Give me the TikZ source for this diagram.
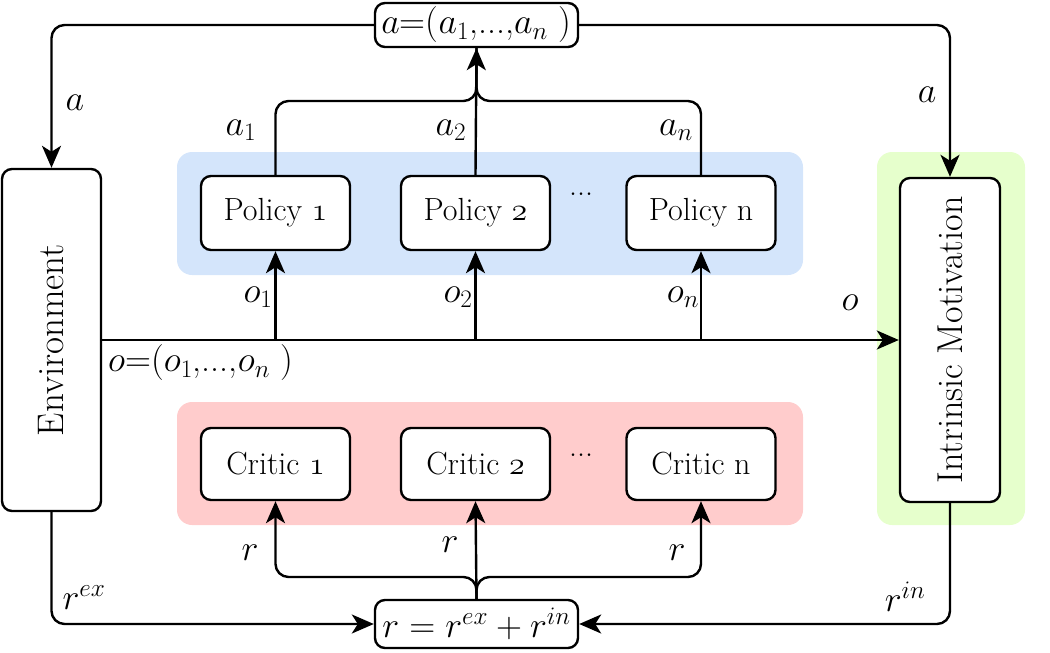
\RequirePackage{fix-cm}
\documentclass[tikz,border=0pt]{standalone}
\usepackage{fontspec}
\usetikzlibrary{arrows.meta}
\newcommand{\osn}[1]{$\mathnormal{#1}$}
\begin{document}
\begin{tikzpicture}[x=1pt,y=-1pt,
  box/.style={draw=black, line width=2.4pt, fill=white, rounded corners=10pt, inner sep=0pt},
  arr/.style={line width=2.4pt, -{Stealth[length=22pt,width=19pt,inset=6pt]}},
  ln/.style={line width=2.4pt},
  txt/.style={font=\fontsize{32}{38}\selectfont},
  ml/.style={font=\fontsize{36}{42}\selectfont, inner sep=0pt},
  rc/.style={rounded corners=13pt}]
\useasboundingbox (0,0) rectangle (1050,653);
% backgrounds
\definecolor{bgblue}{HTML}{D4E5FB}
\definecolor{bgred}{HTML}{FFCCCC}
\definecolor{bggreen}{HTML}{E6FFCC}
\fill[bgblue, rounded corners=15pt] (177,152) rectangle (803,275);
\fill[bgred, rounded corners=15pt] (177,402) rectangle (803,525);
\fill[bggreen, rounded corners=15pt] (877,152) rectangle (1025,525);
% nodes
\node[box, minimum width=99pt, minimum height=342pt] (env) at (51.5,340) {};
\node[rotate=90, font=\fontsize{37}{42}\selectfont] at (env.center) {Environment};
\node[box, minimum width=100pt, minimum height=324pt] (im) at (950,340) {};
\node[rotate=90, font=\fontsize{36}{42}\selectfont] at (im.center) {Intrinsic Motivation};
\node[box, txt, minimum width=149pt, minimum height=74pt] (p1) at (275.5,213) {Policy \osn{1}};
\node[box, txt, minimum width=149pt, minimum height=74pt] (p2) at (475.5,213) {Policy \osn{2}};
\node[box, txt, minimum width=149pt, minimum height=74pt] (pn) at (701,213) {Policy n};
\node[box, txt, minimum width=149pt, minimum height=72pt] (c1) at (275.5,464) {Critic \osn{1}};
\node[box, txt, minimum width=149pt, minimum height=72pt] (c2) at (475.5,464) {Critic \osn{2}};
\node[box, txt, minimum width=149pt, minimum height=72pt] (cn) at (701,464) {Critic n};
\node[txt] (d1) at (581,194) {...};
\node[txt] (d2) at (581,455) {...};
\node[box, ml, minimum width=203pt, minimum height=44pt] (abox) at (476.5,25) {$a$=($a_1$,...,$a_n$ )};
\node[box, ml, minimum width=203pt, minimum height=48pt] (rbox) at (476.5,624) {$r = r^{ex} + r^{in}$};
% coordinates
\coordinate (aj) at (476.5,101);
\coordinate (rj) at (476.5,577);
\coordinate (o1) at (p1.south |- env.east);
\coordinate (o2) at (p2.south |- env.east);
\coordinate (on) at (pn.south |- env.east);
% connectors top
\draw[ln, rc] (p1.north) |- (aj) -- (abox.south);
\draw[ln, rc] (pn.north) |- (aj) -- (abox.south);
\draw[arr] (p2.north) -- (abox.south);
\draw[arr, rc] (abox.west) -| (env.north);
\draw[arr, rc] (abox.east) -| (im.north);
% observations
\draw[arr] (env.east) -- (im.west);
\draw[arr] (o1) -- (p1.south);
\draw[arr] (o2) -- (p2.south);
\draw[arr] (on) -- (pn.south);
% rewards
\draw[arr, rc] (env.south) |- (rbox.west);
\draw[arr, rc] (im.south) |- (rbox.east);
\draw[arr] (rbox.north) -- (c2.south);
\draw[arr, rc] (rbox.north) -- (rj) -| (c1.south);
\draw[arr, rc] (rbox.north) -- (rj) -| (cn.south);
% labels
\node[ml] (la1) at (75,103) {$a$};
\node[ml] (la2) at (927,95) {$a$};
\node[ml] (lp1) at (241,130) {$a_1$};
\node[ml] (lp2) at (451,130) {$a_2$};
\node[ml] (lpn) at (676,130) {$a_n$};
\node[ml] (lo1) at (258,297) {$o_1$};
\node[ml] (lo2) at (458,297) {$o_2$};
\node[ml] (lon) at (683,297) {$o_n$};
\node[ml] (lo) at (850,303) {$o$};
\node[ml, anchor=west] (lov) at (108,363) {$o$=($o_1$,...,$o_n$ )};
\node[ml] (lr1) at (250,553) {$r$};
\node[ml] (lr2) at (450,545) {$r$};
\node[ml] (lrn) at (677,553) {$r$};
\node[ml] (lrex) at (84,598) {$r^{ex}$};
\node[ml] (lrin) at (905,597) {$r^{in}$};
\end{tikzpicture}
\end{document}
